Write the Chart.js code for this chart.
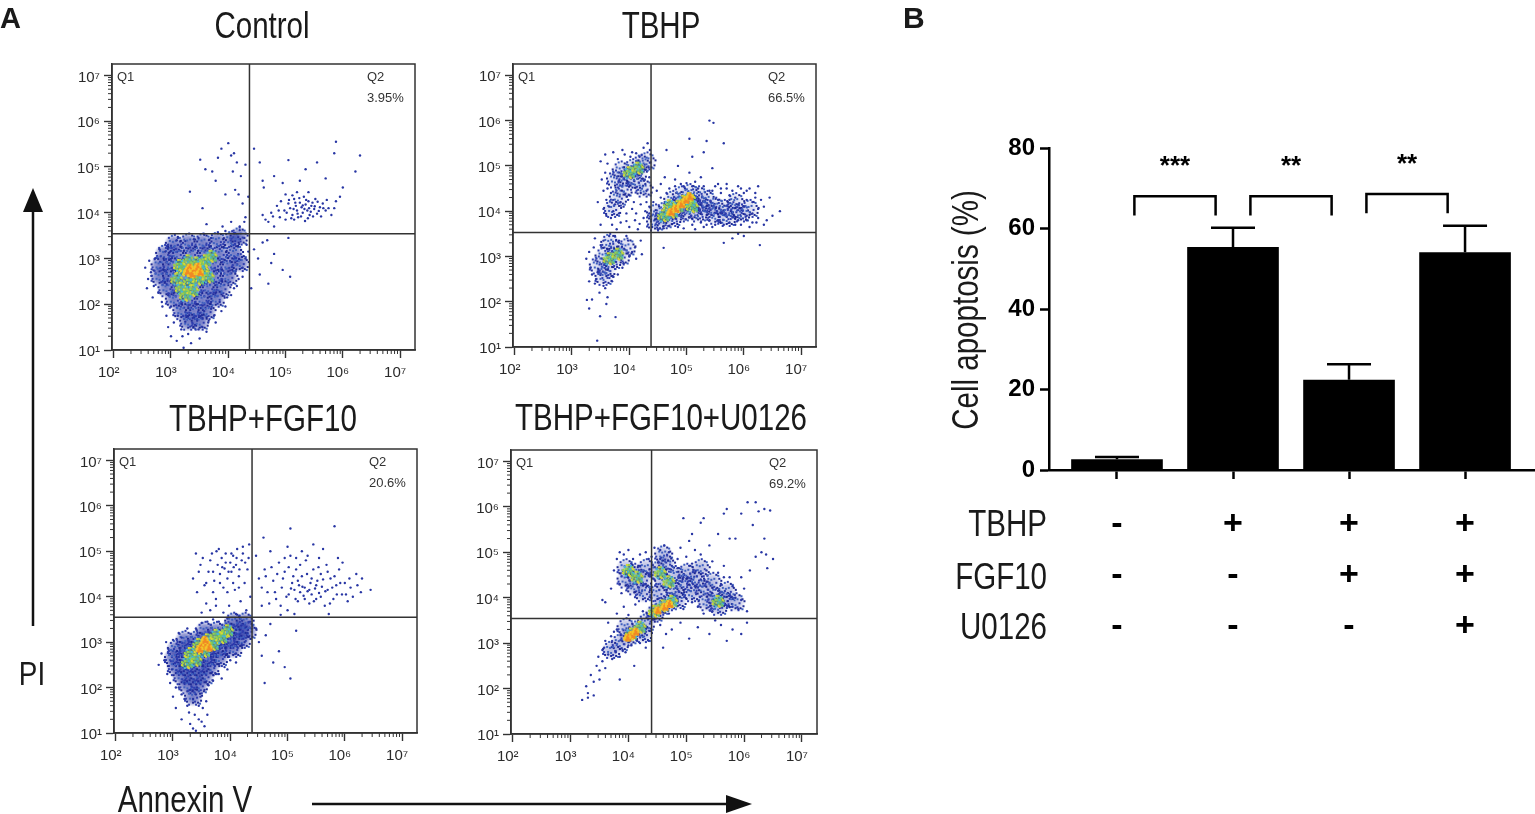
<!DOCTYPE html>
<html>
<head>
<meta charset="utf-8">
<script src="https://cdn.jsdelivr.net/npm/chart.js@4.4.1/dist/chart.umd.min.js"></script>
<style>
  html, body { margin: 0; padding: 0; background: #fff; }
  body { width: 1535px; height: 814px; position: relative; overflow: hidden; font-family: "Liberation Sans", Arial, sans-serif; }
  .box { position: absolute; }
  .lbl { position: absolute; white-space: nowrap; line-height: 1; color: #1a1a1a; }
  .c { transform: translate(-50%, -50%) scaleX(0.82); }
  .r { transform: translate(-100%, -50%) scaleX(0.82); transform-origin: 100% 50%; }
  .rot { transform: translate(-50%, -50%) rotate(-90deg) scaleX(0.82); }
  .big { font-size: 36px; }
</style>
</head>
<body>
<div class="box" style="left:52px;top:51px;width:369px;height:339px"><canvas id="ctrl"></canvas></div>
<div class="box" style="left:453px;top:51px;width:369px;height:336px"><canvas id="tbhp"></canvas></div>
<div class="box" style="left:54px;top:436px;width:369px;height:337px"><canvas id="fgf"></canvas></div>
<div class="box" style="left:451px;top:437px;width:372px;height:337px"><canvas id="u0126"></canvas></div>
<div class="box" style="left:880px;top:100px;width:655px;height:560px"><canvas id="bars"></canvas></div>

<svg width="1535" height="814" style="position:absolute;left:0;top:0">
  <line x1="33" y1="626" x2="33" y2="205" stroke="#111" stroke-width="2.5"/>
  <polygon points="33,188 23,212 43,212" fill="#111"/>
  <line x1="312" y1="804" x2="735" y2="804" stroke="#111" stroke-width="2.5"/>
  <polygon points="752,804 726,795 726,813" fill="#111"/>
</svg>

<div class="lbl" style="left:0px;top:4px;font-size:29px;font-weight:bold">A</div>
<div class="lbl" style="left:903px;top:3px;font-size:30px;font-weight:bold">B</div>
<div class="lbl c big" style="left:262px;top:26px">Control</div>
<div class="lbl c big" style="left:661px;top:26px">TBHP</div>
<div class="lbl c big" style="left:263px;top:419px">TBHP+FGF10</div>
<div class="lbl c big" style="left:661px;top:418px">TBHP+FGF10+U0126</div>
<div class="lbl c" style="left:32px;top:673px;font-size:34px">PI</div>
<div class="lbl c big" style="left:185px;top:800px">Annexin V</div>
<div class="lbl rot big" style="left:966px;top:310px">Cell apoptosis (%)</div>
<div class="lbl r big" style="left:1047px;top:524px">TBHP</div>
<div class="lbl r big" style="left:1047px;top:577px">FGF10</div>
<div class="lbl r big" style="left:1047px;top:627px">U0126</div>

<script>
// ---- flow cytometry panels, values are log10 of the channel ----
const decadeLabels = ['10⁰', '10¹', '10²', '10³', '10⁴', '10⁵', '10⁶', '10⁷'];
const xDecades = [2, 3, 4, 5, 6, 7];
const yDecades = [1, 2, 3, 4, 5, 6, 7];
const gateX = [4.37, 4.38, 4.38, 4.40];
const gateY = [3.54, 3.53, 3.55, 3.54];
const q2Percent = ['3.95%', '66.5%', '20.6%', '69.2%'];

const ctrlBlob = [
    [3.05,3.32],[3.30,3.35],[3.55,3.35],[3.80,3.38],[4.05,3.40],[4.18,3.48],
    [2.88,3.10],[3.10,3.10],[3.35,3.10],[3.60,3.10],[3.85,3.10],[4.10,3.12],
    [2.80,2.85],[3.00,2.85],[3.25,2.85],[3.50,2.85],[3.75,2.85],[4.00,2.85],[4.20,2.90],
    [2.80,2.60],[3.00,2.60],[3.25,2.60],[3.50,2.60],[3.75,2.60],[4.00,2.60],
    [2.92,2.35],[3.15,2.35],[3.40,2.35],[3.65,2.35],[3.88,2.35],
    [3.05,2.10],[3.30,2.10],[3.55,2.10],[3.78,2.12],
    [3.18,1.85],[3.40,1.85],[3.62,1.85],[3.30,1.62],[3.50,1.62]
];
const ctrlMid = [
    [3.10,2.55],[3.18,2.35],[3.20,2.75],[3.30,2.95],[3.32,2.50],[3.45,2.90],[3.55,2.75],
    [3.60,2.95],[3.48,2.55],[3.25,2.20],[3.38,2.30],[3.65,2.60],[3.15,2.85],[3.70,3.05]
];
const ctrlCore = [[3.32,2.80],[3.40,2.72],[3.46,2.82],[3.36,2.66],[3.50,2.70],[3.28,2.72]];
const ctrlSparse = [
    [2.55,2.80],[2.60,2.55],[2.58,2.35],[2.68,2.15],[2.72,3.00],[2.80,3.20],[2.85,1.95],[2.92,1.75],
    [2.95,1.50],[3.00,1.30],[3.05,1.60],[3.10,1.20],[3.18,1.45],[3.22,1.05],[3.30,1.35],[3.35,1.15],
    [3.42,1.55],[3.50,1.25],[3.55,1.70],[3.62,1.40],[3.70,1.90],[3.78,1.60],[3.85,2.05],[3.95,1.95],
    [4.05,2.20],[4.15,2.40],[4.25,2.60],[4.30,3.00],[4.32,3.30],[4.20,3.62],[3.95,3.60],[3.70,3.45],
    [3.40,3.42],[3.10,3.40],[2.95,3.30],[2.65,2.70],
    [2.62,2.95],[2.70,2.40],[2.66,2.62],[2.78,2.25],[2.84,2.05],[2.90,3.15],[3.00,3.28],[3.12,3.45],
    [3.25,3.38],[3.48,3.45],[3.58,3.52],[3.82,3.55],[4.10,3.55],[4.28,3.45],[4.35,3.15],[4.25,2.80],
    [4.18,2.55],[4.10,2.35],[3.98,2.15],[3.88,1.85],[3.75,1.75],[3.65,1.60],[3.48,1.45],[3.38,1.70],
    [3.25,1.62],[3.12,1.75],[3.00,1.95],[2.95,2.20],[3.20,1.30],[3.55,1.50],[3.70,2.05],[3.58,1.85],
    [3.33,4.46],[3.51,5.16],[3.55,4.10],[3.62,3.75],[3.72,4.90],[3.78,4.70],[3.82,5.20],[3.88,5.40],
    [3.95,4.40],[4.00,5.52],[4.05,5.25],[4.10,5.30],[4.12,4.50],[4.15,5.10],[4.18,4.40],[4.22,4.80],
    [4.25,4.20],[4.30,5.05],[4.30,3.90],[4.05,3.80],[4.20,3.70],[3.60,4.95],[4.35,4.35],[4.08,4.90],
    [3.90,3.70],[4.28,3.80],
    [4.70,3.80],[4.75,4.00],[4.80,3.70],[4.85,4.15],[4.90,3.90],[4.92,4.25],[4.98,4.05],[5.00,3.85],
    [5.05,4.20],[5.08,4.10],[5.12,3.95],[5.15,4.30],[5.18,4.15],[5.20,4.05],[5.22,3.90],[5.25,4.22],
    [5.28,4.12],[5.30,4.00],[5.32,4.35],[5.35,4.18],[5.38,4.05],[5.40,4.25],[5.42,3.95],[5.45,4.15],
    [5.50,4.08],[5.52,4.30],[5.55,3.98],[5.60,4.12],[5.65,4.20],[5.70,4.05],[5.75,4.10],[5.80,3.95],
    [5.88,4.25],[5.95,4.35],[5.15,3.85],[5.00,4.40],[4.62,4.55],[4.65,3.85],
    [5.02,4.00],[5.06,4.28],[5.10,3.88],[5.14,4.08],[5.17,4.22],[5.21,3.98],[5.24,4.32],[5.27,3.92],
    [5.30,4.16],[5.33,4.08],[5.36,4.28],[5.39,3.88],[5.41,4.10],[5.44,4.02],[5.47,4.22],[5.51,4.14],
    [5.56,4.24],[5.58,4.04],[5.62,3.92],[5.66,4.10],[5.48,3.92],[5.34,3.82],[5.12,4.38],[4.88,4.05],
    [4.78,3.92],[5.72,4.28],[5.85,4.10],[5.20,4.45],[5.40,4.45],[4.60,3.95],
    [4.45,5.40],[4.55,5.10],[4.60,4.70],[4.80,4.80],[5.05,5.15],[5.25,4.70],[5.35,4.95],[5.55,5.10],
    [5.70,4.75],[5.85,5.30],[5.88,5.55],[6.00,4.55],[6.30,5.25],[6.22,4.90],[4.95,4.65],
    [4.45,3.20],[4.52,3.00],[4.60,3.35],[4.68,3.40],[4.75,2.90],[4.80,3.10],[4.95,2.75],[5.05,3.45],
    [5.08,2.60],[4.55,2.65],[4.70,2.45],[4.40,2.35]
];

const tbhpBlob = [
    [4.45,3.75],[4.45,3.95],[4.60,3.80],[4.60,4.00],[4.75,3.85],[4.75,4.05],[4.75,4.25],[4.90,3.95],
    [4.90,4.15],[4.90,4.35],[5.05,4.00],[5.05,4.20],[5.05,4.40],[5.20,3.95],[5.20,4.15],[5.20,4.35],
    [5.35,4.05],[5.35,4.25],[5.50,4.10],[5.50,3.90],[5.65,4.05],[5.80,4.00],[5.95,3.95],[5.70,3.85],
    [6.10,4.05],[5.85,4.20],
    [3.75,4.70],[3.85,4.90],[3.95,4.75],[4.05,4.95],[4.15,4.85],[4.20,5.05],[4.30,5.10],[3.90,4.50],
    [3.80,4.30],[4.10,4.65],[3.70,4.05],[4.25,4.50],
    [3.45,2.80],[3.55,3.00],[3.60,2.70],[3.70,2.90],[3.75,3.15],[3.85,3.00],[3.65,3.30],[3.55,2.55],
    [3.95,3.20]
];
const tbhpMid = [
    [4.60,3.90],[4.75,3.98],[4.85,4.10],[4.95,4.22],[5.05,4.28],[5.10,4.10],[4.70,4.12],
    [4.00,4.85],[4.15,4.95],[3.65,2.95],[3.80,3.05]
];
const tbhpCore = [[4.80,4.05],[4.90,4.15],[4.98,4.25],[5.05,4.32],[4.72,3.98]];
const tbhpSparse = [
    [3.50,5.10],[3.58,5.25],[3.65,4.10],[3.60,3.90],[3.70,3.70],[3.62,4.50],[3.72,5.30],[3.88,5.35],
    [4.02,5.20],[4.12,5.28],[4.25,5.40],[4.32,5.50],[4.36,5.35],[4.28,4.60],[4.20,4.40],[4.30,4.20],
    [4.08,4.20],[3.95,3.95],[3.85,3.75],[4.10,3.80],[4.25,3.85],[4.35,3.95],[3.52,4.70],[3.45,4.20],
    [3.50,3.70],[3.78,3.60],[4.00,3.65],[4.15,3.60],
    [3.58,4.85],[3.62,5.05],[3.68,4.40],[3.72,4.00],[3.80,5.15],[3.85,4.20],[3.92,5.25],[4.00,4.35],
    [4.05,5.30],[4.18,5.20],[4.25,4.95],[4.35,4.75],[4.30,4.45],[3.55,4.45],
    [3.60,4.25],[3.68,3.85],[3.75,4.15],[3.82,3.95],[3.90,4.10],[3.98,4.25],[4.05,4.05],[4.12,3.95],
    [4.20,4.15],[4.28,4.00],[4.35,4.10],[3.55,4.05],[3.95,3.78],[4.18,3.72],
    [3.30,3.10],[3.25,2.95],[3.35,2.60],[3.40,2.40],[3.48,2.20],[3.55,2.35],[3.62,2.10],[3.70,2.45],
    [3.80,2.60],[3.90,2.85],[4.00,3.00],[4.10,3.20],[4.20,3.35],[4.22,3.05],[3.95,3.45],[3.75,3.45],
    [3.55,3.35],[3.40,3.40],[3.35,2.05],[3.26,2.04],[3.49,1.68],[3.76,1.66],[3.44,1.14],[3.60,1.95],
    [3.30,1.85],[3.32,2.75],[3.38,3.20],[3.42,2.50],[3.50,3.25],[3.58,2.30],[3.65,3.45],[3.72,2.55],
    [3.82,3.35],[3.88,2.75],[3.98,3.35],[4.05,3.10],[4.12,2.95],[3.45,2.65],[3.30,2.45],
    [4.40,3.65],[4.42,4.20],[4.48,4.45],[4.55,4.60],[4.62,4.75],[4.70,4.50],[4.80,4.70],[4.85,5.00],
    [4.95,4.55],[5.05,4.85],[5.10,5.20],[5.15,4.65],[5.25,4.75],[5.30,5.30],[5.35,5.55],[5.40,6.00],
    [5.47,5.95],[5.45,4.95],[5.55,4.60],[5.60,4.40],[5.70,4.50],[5.75,4.25],[5.85,4.30],[5.90,3.80],
    [6.00,4.10],[6.05,3.90],[6.15,4.20],[6.22,3.75],[6.30,4.25],[6.10,3.65],[6.50,3.90],[5.95,4.50],
    [5.50,3.70],[5.30,3.65],[5.10,3.70],[4.60,3.62],[4.85,3.65],[5.05,5.60],[4.65,5.35],[5.65,5.50],
    [6.63,4.00],[6.20,4.40],[6.35,3.70],[6.05,4.45],[5.45,4.45],[5.60,3.95],[5.75,4.35],[5.90,4.15],
    [6.05,4.25],[6.15,3.95],[6.25,4.05],[5.85,3.70],[5.55,4.25],[5.40,3.80],[6.35,4.10],[6.45,4.30],
    [5.20,4.50],[5.30,4.55],[5.40,4.45],[5.50,4.55],[5.60,4.50],[5.70,4.60],[5.80,4.45],[5.90,4.55],
    [6.00,4.40],[6.10,4.50],[6.20,4.30],[6.25,4.55],[5.25,3.75],[5.35,3.70],[5.45,3.65],[5.55,3.80],
    [5.65,3.70],[5.75,3.75],[5.95,3.70],[6.05,3.80],[6.15,3.75],[6.25,3.85],[6.40,3.80],[4.50,3.60],
    [4.70,3.68],[4.95,3.62],[5.15,3.60],[4.55,4.30],[4.65,4.40],[4.80,4.55],[4.90,4.60],[5.00,4.62],
    [5.10,4.55],
    [4.60,3.19],[5.65,3.30],[5.80,3.40],[6.28,3.25],[5.90,3.50],[6.00,3.45]
];

const fgfBlob = [
    [4.05,3.45],[4.25,3.45],
    [3.55,3.25],[3.75,3.25],[3.95,3.25],[4.15,3.25],[4.30,3.25],
    [3.20,3.05],[3.40,3.05],[3.60,3.05],[3.80,3.05],[4.00,3.05],[4.20,3.05],
    [3.05,2.85],[3.25,2.85],[3.45,2.85],[3.65,2.85],[3.85,2.85],[4.05,2.85],
    [3.00,2.65],[3.20,2.65],[3.40,2.65],[3.60,2.65],[3.80,2.65],
    [3.05,2.45],[3.25,2.45],[3.45,2.45],[3.65,2.45],
    [3.15,2.25],[3.35,2.25],[3.55,2.25],
    [3.25,2.05],[3.45,2.05],[3.35,1.80]
];
const fgfMid = [
    [3.30,2.75],[3.45,2.95],[3.60,3.05],[3.75,3.15],[3.40,2.60],[3.55,2.80],[3.70,2.95],[3.85,3.10],
    [3.25,2.55],[3.95,3.25]
];
const fgfCore = [[3.50,2.92],[3.58,2.98],[3.62,2.88],[3.46,2.85],[3.55,3.05]];
const fgfSparse = [
    [3.35,4.40],[3.42,4.10],[3.48,4.70],[3.55,4.25],[3.58,3.85],[3.62,4.55],[3.68,4.95],[3.72,4.35],
    [3.75,3.95],[3.78,4.70],[3.82,4.50],[3.85,4.85],[3.88,4.20],[3.90,4.62],[3.92,4.95],[3.95,4.40],
    [3.98,3.80],[4.00,4.75],[4.02,4.55],[4.05,4.90],[4.08,4.15],[4.10,4.70],[4.12,5.05],[4.15,4.45],
    [4.18,3.90],[4.20,4.80],[4.22,5.10],[4.25,4.30],[4.28,3.70],[4.30,4.60],[4.33,5.15],[4.35,4.00],
    [3.65,3.70],[3.88,3.65],[4.10,3.62],[3.50,3.65],[3.80,5.05],[3.40,4.95],[3.70,4.10],[4.05,4.30],
    [3.45,4.55],[3.52,4.85],[3.58,4.30],[3.65,4.80],[3.70,4.55],[3.76,5.00],[3.82,4.30],[3.86,4.65],
    [3.92,4.75],[3.97,4.55],[4.02,4.95],[4.06,4.65],[4.11,4.85],[4.16,4.60],[4.22,4.95],[4.26,4.75],
    [4.32,4.85],[3.95,4.10],[4.15,4.20],[3.75,3.80],
    [4.45,4.90],[4.50,4.40],[4.55,3.80],[4.60,4.60],[4.65,4.10],[4.70,5.00],[4.75,4.35],[4.80,3.95],
    [4.85,4.75],[4.90,4.20],[4.95,4.55],[5.00,3.70],[5.02,4.05],[5.05,4.90],[5.08,4.30],[5.12,4.15],
    [5.15,4.60],[5.18,3.90],[5.20,4.25],[5.22,4.10],[5.25,4.45],[5.28,4.02],[5.30,4.20],[5.32,4.80],
    [5.35,4.12],[5.38,3.85],[5.40,4.30],[5.42,4.05],[5.45,4.60],[5.48,4.18],[5.50,3.95],[5.52,4.35],
    [5.55,4.08],[5.58,4.50],[5.60,4.22],[5.65,3.80],[5.68,4.70],[5.70,4.15],[5.75,4.40],[5.80,3.95],
    [5.85,4.25],[5.90,4.60],[5.95,4.05],[6.00,4.30],[6.05,3.90],[6.10,4.20],[6.20,4.50],[6.28,4.10],
    [5.00,5.10],[5.25,5.00],[5.45,5.15],[5.62,5.05],[5.88,4.85],[5.05,5.50],[5.82,5.55],[4.58,5.30],
    [6.45,4.15],[5.12,3.62],[5.72,3.62],[4.88,3.60],
    [4.55,4.20],[4.62,4.45],[4.68,3.85],[4.72,4.65],[4.78,4.10],[4.82,4.50],[4.88,3.80],[4.92,4.40],
    [4.98,4.00],[5.02,4.65],[5.06,4.18],[5.10,4.45],[5.14,3.95],[5.18,4.35],[5.22,4.70],[5.26,4.22],
    [5.30,3.95],[5.34,4.50],[5.38,4.15],[5.42,4.40],[5.46,3.90],[5.50,4.25],[5.54,4.65],[5.58,4.00],
    [5.62,4.38],[5.66,4.12],[5.70,4.55],[5.74,3.85],[5.78,4.20],[5.82,4.45],[5.86,4.05],[5.92,4.30],
    [5.96,4.75],[6.02,4.05],[6.08,4.40],[6.14,4.00],[6.22,4.25],[6.30,4.40],[5.35,4.90],[5.55,4.85],
    [5.15,4.85],[4.95,4.85],
    [2.75,2.50],[2.80,2.75],[2.90,2.30],[2.88,3.00],[2.95,2.10],[3.00,1.80],[3.05,1.55],[3.10,2.00],
    [3.15,1.30],[3.20,1.75],[3.28,1.45],[3.35,1.10],[3.40,1.85],[3.45,1.60],[3.50,1.25],[3.55,1.95],
    [3.60,1.40],[3.70,2.15],[3.80,2.30],[3.90,2.45],[4.00,2.60],[4.10,2.75],[4.20,2.95],[4.30,3.20],
    [4.35,3.45],[3.40,3.30],[3.15,3.10],[3.80,3.45],[3.60,3.45],
    [3.05,2.00],[3.15,1.85],[3.20,2.10],[3.25,1.60],[3.30,1.95],[3.35,1.75],[3.38,1.40],[3.42,2.00],
    [3.48,1.80],[3.52,1.55],[3.58,1.70],[3.62,2.05],[3.30,1.20],[3.45,1.30],[3.40,1.05],[3.55,1.15],
    [2.85,2.60],[2.92,2.85],[2.98,2.40],[3.00,3.05],[3.10,3.20],[3.25,3.30],[3.50,3.42],[3.70,3.50],
    [3.95,3.52],[4.15,3.55],[4.25,3.00],[4.10,2.55],[3.95,2.40],[3.85,2.20],[3.75,2.30],
    [4.45,3.30],[4.50,3.00],[4.55,2.70],[4.62,3.15],[4.75,2.55],[4.85,2.80],[4.95,2.45],[5.05,2.20],
    [4.60,2.10],[5.15,3.25],[4.70,3.40]
];

const uBlob = [
    [3.85,3.00],[4.00,3.15],[4.15,3.30],[4.30,3.45],[3.70,2.85],[3.95,3.35],[4.25,3.20],
    [3.95,4.40],[4.10,4.55],[4.25,4.40],[4.10,4.25],[4.30,4.65],[3.95,4.65],[4.25,4.10],
    [4.45,3.65],[4.55,3.80],[4.70,3.90],[4.85,3.95],[4.50,4.10],[4.60,4.35],[4.50,4.60],[4.65,4.75],
    [4.80,4.50],[4.95,4.30],[4.80,4.15],[5.00,4.55],[5.10,4.10],[5.15,4.40],[5.30,4.20],[5.35,3.90],
    [5.50,4.00],[5.55,3.80],[5.65,3.95],[5.70,4.15],[5.45,4.35],[5.85,3.90],[5.25,4.65],[4.60,4.95]
];
const uMid = [
    [4.05,3.20],[4.20,3.35],[4.45,3.70],[4.60,3.82],[4.75,3.92],[4.55,4.55],[4.15,4.45],[5.55,3.92],
    [4.70,4.35],[4.00,4.60]
];
const uCore = [[4.05,3.18],[4.12,3.25],[3.98,3.12],[4.50,3.72],[4.62,3.80],[4.70,3.86]];
const uSparse = [
    [3.27,2.05],[3.30,1.90],[3.35,2.30],[3.40,2.15],[3.45,2.50],[3.50,2.40],[3.55,2.60],[3.60,2.45],
    [3.65,2.75],[3.72,2.65],[3.78,2.80],[3.50,2.20],[3.85,2.20],[3.40,1.85],[3.20,1.75],[3.30,1.80],
    [3.58,2.90],[3.90,2.85],[4.35,3.05],[4.30,2.90],[4.20,3.00],[4.00,2.95],[4.10,2.50],[3.75,3.25],
    [3.65,3.45],[3.60,3.05],[3.70,3.15],[3.80,3.30],[3.85,2.70],[3.95,2.80],[4.05,2.95],[4.15,3.05],
    [4.30,3.25],[3.48,2.70],[3.55,2.85],
    [3.55,3.95],[3.60,3.90],[3.70,4.20],[3.75,4.60],[3.80,4.85],[3.85,5.00],[3.88,4.10],[3.92,3.80],
    [4.00,5.05],[4.08,4.85],[4.12,3.85],[4.20,4.95],[4.25,3.70],[4.30,5.00],[4.35,4.85],[4.38,4.20],
    [3.80,3.65],[4.00,3.62],[4.35,3.60],[3.92,4.95],[3.85,4.30],[3.90,4.55],[4.00,4.25],[4.05,4.75],
    [4.20,4.70],[4.30,4.30],[4.35,4.50],
    [4.40,4.90],[4.45,5.10],[4.55,5.05],[4.62,5.15],[4.70,5.00],[4.75,4.70],[4.85,4.85],[4.90,5.10],
    [5.00,4.90],[5.05,5.25],[5.10,4.75],[5.15,5.05],[5.20,3.80],[5.25,4.95],[5.35,4.60],[5.40,5.15],
    [5.45,4.80],[5.55,4.55],[5.60,4.30],[5.65,4.70],[5.75,4.45],[5.80,4.25],[5.85,4.00],[5.90,3.75],
    [5.95,4.45],[6.00,4.20],[6.05,3.70],[6.10,4.60],[6.20,4.90],[6.30,5.00],[6.40,4.65],[6.35,5.30],
    [6.38,4.95],[6.50,4.85],[6.06,6.10],[6.20,6.10],[6.25,5.90],[6.35,5.95],[6.45,5.92],[5.95,5.85],
    [5.65,5.85],[5.70,5.95],[5.25,5.65],[4.95,5.75],[5.30,5.75],[5.55,5.40],[5.85,5.30],[5.75,5.30],
    [6.15,5.60],[5.10,5.40],[4.45,4.40],[4.55,4.85],[4.65,4.55],[4.75,4.30],[4.85,4.65],[4.95,4.45],
    [5.05,4.70],[5.15,4.25],[5.25,4.40],[5.35,4.35],[5.45,4.10],[5.55,4.15],[5.65,4.45],[5.75,4.05],
    [5.80,3.80],[5.95,3.95],[5.45,3.70],[5.30,3.65],[5.10,3.90],[4.95,3.75],[4.70,3.65],[4.55,3.60],
    [4.55,3.40],[4.65,3.20],[4.75,3.30],[4.90,3.45],[5.05,3.10],[5.20,3.35],[5.40,3.20],[5.60,3.40],
    [5.80,3.30],[5.95,3.20],[6.05,3.45],[4.60,2.90],[5.70,3.05],[5.50,3.50]
];

// ---- bar chart panel ----
const groups = ['Control', 'TBHP', 'TBHP+FGF10', 'TBHP+FGF10+U0126'];
const apoptosis = [2.7, 55.4, 22.4, 54.1];
const apoptosisErr = [0.5, 4.8, 3.9, 6.6];
const tbhpRow = ['-', '+', '+', '+'];
const fgf10Row = ['-', '-', '+', '+'];
const u0126Row = ['-', '-', '-', '+'];
const sigPairs = [[0, 1], [1, 2], [2, 3]];
const sigLevel = [68.0, 68.0, 68.6];
const sigLabels = ['***', '**', '**'];

Chart.defaults.font.family = '"Liberation Sans", Arial, sans-serif';
Chart.defaults.animation = false;

// dotted sprite used as point style for the dense parts of a population
const speckle = [
    [-0.82,-0.10],[-0.52,-0.58],[-0.30,0.20],[-0.62,0.48],[0.10,-0.86],[0.22,-0.30],[0.02,0.62],[0.42,0.08],
    [0.56,-0.56],[0.76,0.36],[0.30,0.84],[-0.14,-0.18],[0.86,-0.12],[-0.36,0.84],[-0.20,-0.78],[0.50,0.55],
    [-0.70,0.15],[-0.05,0.30],[0.65,-0.30],[0.15,0.45],[-0.45,-0.30],[0.35,-0.75],[-0.85,0.40],[0.70,0.68]
];
function speckleSprite(r, rgb, alpha, dots) {
    const c = document.createElement('canvas');
    const m = r + 1;
    c.width = c.height = 2 * m;
    const g = c.getContext('2d');
    const grad = g.createRadialGradient(m, m, 0, m, m, r);
    grad.addColorStop(0, `rgba(${rgb},${alpha})`);
    grad.addColorStop(0.55, `rgba(${rgb},${alpha * 0.75})`);
    grad.addColorStop(1, `rgba(${rgb},0)`);
    g.fillStyle = grad;
    g.beginPath();
    g.arc(m, m, r, 0, Math.PI * 2);
    g.fill();
    speckle.forEach(([dx, dy], k) => {
        g.fillStyle = dots[k % dots.length];
        g.fillRect(Math.round(m + dx * r) - 1, Math.round(m + dy * r) - 1, 2, 2);
    });
    return c;
}

const flowFrame = {
    id: 'flowFrame',
    afterDatasetsDraw(chart, args, opts) {
        const { ctx, chartArea: a, scales: { x, y } } = chart;
        ctx.save();
        ctx.strokeStyle = '#333';
        ctx.lineWidth = 1.5;
        const gx = x.getPixelForValue(opts.gateX);
        const gy = y.getPixelForValue(opts.gateY);
        ctx.beginPath();
        ctx.moveTo(gx, a.top); ctx.lineTo(gx, a.bottom);
        ctx.moveTo(a.left, gy); ctx.lineTo(a.right, gy);
        ctx.stroke();
        ctx.strokeRect(a.left, a.top, a.right - a.left, a.bottom - a.top);

        // minor log ticks
        ctx.lineWidth = 1;
        ctx.beginPath();
        for (let n = Math.floor(x.min); n < x.max; n++) {
            for (let k = 2; k < 10; k++) {
                const v = n + Math.log10(k);
                if (v < x.min || v > x.max) continue;
                const p = x.getPixelForValue(v);
                ctx.moveTo(p, a.bottom); ctx.lineTo(p, a.bottom + 4);
            }
        }
        for (let n = Math.floor(y.min); n < y.max; n++) {
            for (let k = 2; k < 10; k++) {
                const v = n + Math.log10(k);
                if (v < y.min || v > y.max) continue;
                const p = y.getPixelForValue(v);
                ctx.moveTo(a.left, p); ctx.lineTo(a.left - 4, p);
            }
        }
        ctx.stroke();

        ctx.fillStyle = '#333';
        ctx.font = '13px "Liberation Sans", Arial, sans-serif';
        ctx.textBaseline = 'middle';
        ctx.fillText('Q1', a.left + 5, a.top + 13);
        ctx.fillText('Q2', a.right - 48, a.top + 13);
        ctx.fillText(opts.pct, a.right - 48, a.top + 34);
        ctx.restore();
    }
};

function flowChart(id, sets, i, fill) {
    return new Chart(document.getElementById(id), {
        type: 'scatter',
        data: {
            datasets: [
                { data: sets.core, pointStyle: speckleSprite(4, '232,40,28', 0.95, ['#f2c62a', '#f08a24']) },
                { data: sets.mid, pointStyle: speckleSprite(6.5, '120,196,84', 0.7, ['#9ad04a', '#44b6d8', '#d8d834', '#6cc070']) },
                { data: sets.sparse, pointRadius: 1.2, backgroundColor: '#2836a4', borderWidth: 0 },
                { data: sets.blob, pointStyle: speckleSprite(10, '38,50,165', fill, ['#1f2a94', '#2f3fb0', '#3f60c0']) }
            ]
        },
        options: {
            responsive: true,
            maintainAspectRatio: false,
            layout: { padding: { top: 6, right: 6 } },
            plugins: {
                legend: { display: false },
                tooltip: { enabled: false },
                flowFrame: { gateX: gateX[i], gateY: gateY[i], pct: q2Percent[i] }
            },
            scales: {
                x: {
                    type: 'linear', min: 1.97, max: 7.26,
                    afterBuildTicks: s => { s.ticks = xDecades.map(v => ({ value: v })); },
                    afterFit: s => { s.height = 40; },
                    ticks: { callback: v => decadeLabels[v], font: { size: 15 }, color: '#2a2a2a', padding: 6, labelOffset: -5, maxRotation: 0, autoSkip: false },
                    grid: { drawOnChartArea: false, tickLength: 8, tickColor: '#333', tickWidth: 1.4 },
                    border: { color: '#333', width: 1.5 }
                },
                y: {
                    type: 'linear', min: 1, max: 7.25,
                    afterBuildTicks: s => { s.ticks = yDecades.map(v => ({ value: v })); },
                    afterFit: s => { s.width = 60; },
                    ticks: { callback: v => decadeLabels[v], font: { size: 15 }, color: '#2a2a2a', padding: 4, labelOffset: 2, autoSkip: false },
                    grid: { drawOnChartArea: false, tickLength: 8, tickColor: '#333', tickWidth: 1.4 },
                    border: { color: '#333', width: 1.5 }
                }
            }
        },
        plugins: [flowFrame]
    });
}

flowChart('ctrl', { blob: ctrlBlob, mid: ctrlMid, core: ctrlCore, sparse: ctrlSparse }, 0, 0.65);
flowChart('tbhp', { blob: tbhpBlob, mid: tbhpMid, core: tbhpCore, sparse: tbhpSparse }, 1, 0.18);
flowChart('fgf', { blob: fgfBlob, mid: fgfMid, core: fgfCore, sparse: fgfSparse }, 2, 0.65);
flowChart('u0126', { blob: uBlob, mid: uMid, core: uCore, sparse: uSparse }, 3, 0.32);

const sigMarks = {
    id: 'sigMarks',
    afterDatasetsDraw(chart) {
        const { ctx, scales: { x, y } } = chart;
        ctx.save();
        ctx.strokeStyle = '#000';
        ctx.lineWidth = 2.5;
        ctx.beginPath();
        apoptosis.forEach((m, i) => {
            const px = x.getPixelForValue(i);
            const top = y.getPixelForValue(m + apoptosisErr[i]);
            ctx.moveTo(px, y.getPixelForValue(m)); ctx.lineTo(px, top);
            ctx.moveTo(px - 22, top); ctx.lineTo(px + 22, top);
        });
        sigPairs.forEach(([a, b], k) => {
            const x1 = x.getPixelForValue(a + 0.15);
            const x2 = x.getPixelForValue(b - 0.15);
            const yt = y.getPixelForValue(sigLevel[k]);
            const yl = y.getPixelForValue(sigLevel[k] - 4.8);
            ctx.moveTo(x1, yl); ctx.lineTo(x1, yt); ctx.lineTo(x2, yt); ctx.lineTo(x2, yl);
        });
        ctx.stroke();
        ctx.fillStyle = '#000';
        ctx.font = 'bold 26px "Liberation Sans", Arial, sans-serif';
        ctx.textAlign = 'center';
        ctx.textBaseline = 'middle';
        sigPairs.forEach(([a, b], k) => {
            ctx.fillText(sigLabels[k], x.getPixelForValue((a + b) / 2), y.getPixelForValue(sigLevel[k]) - 29);
        });
        ctx.restore();
    }
};

new Chart(document.getElementById('bars'), {
    type: 'bar',
    data: {
        datasets: [{
            data: groups.map((g, i) => ({ x: i, y: apoptosis[i] })),
            backgroundColor: '#000',
            borderWidth: 0,
            barPercentage: 0.79,
            categoryPercentage: 1
        }]
    },
    options: {
        responsive: true,
        maintainAspectRatio: false,
        layout: { padding: { top: 48 } },
        plugins: { legend: { display: false }, tooltip: { enabled: false } },
        scales: {
            x: {
                type: 'linear', min: -0.586, max: 3.603, offset: false,
                afterBuildTicks: s => { s.ticks = groups.map((g, i) => ({ value: i })); },
                afterFit: s => { s.height = 190; },
                ticks: {
                    callback: v => [tbhpRow[v], fgf10Row[v], u0126Row[v]],
                    font: { size: 34, weight: 'bold', lineHeight: 1.5 },
                    color: '#000', padding: 20, maxRotation: 0, autoSkip: false
                },
                grid: { offset: false, drawOnChartArea: false, tickLength: 9, tickWidth: 2.5, tickColor: '#000' },
                border: { color: '#000', width: 2.5 }
            },
            y: {
                min: 0, max: 80,
                afterFit: s => { s.width = 169; },
                ticks: { stepSize: 20, font: { size: 24, weight: 'bold' }, color: '#000', padding: 5 },
                grid: { drawOnChartArea: false, tickLength: 9, tickWidth: 2.5, tickColor: '#000' },
                border: { color: '#000', width: 2.5 }
            }
        }
    },
    plugins: [sigMarks]
});
</script>
</body>
</html>
